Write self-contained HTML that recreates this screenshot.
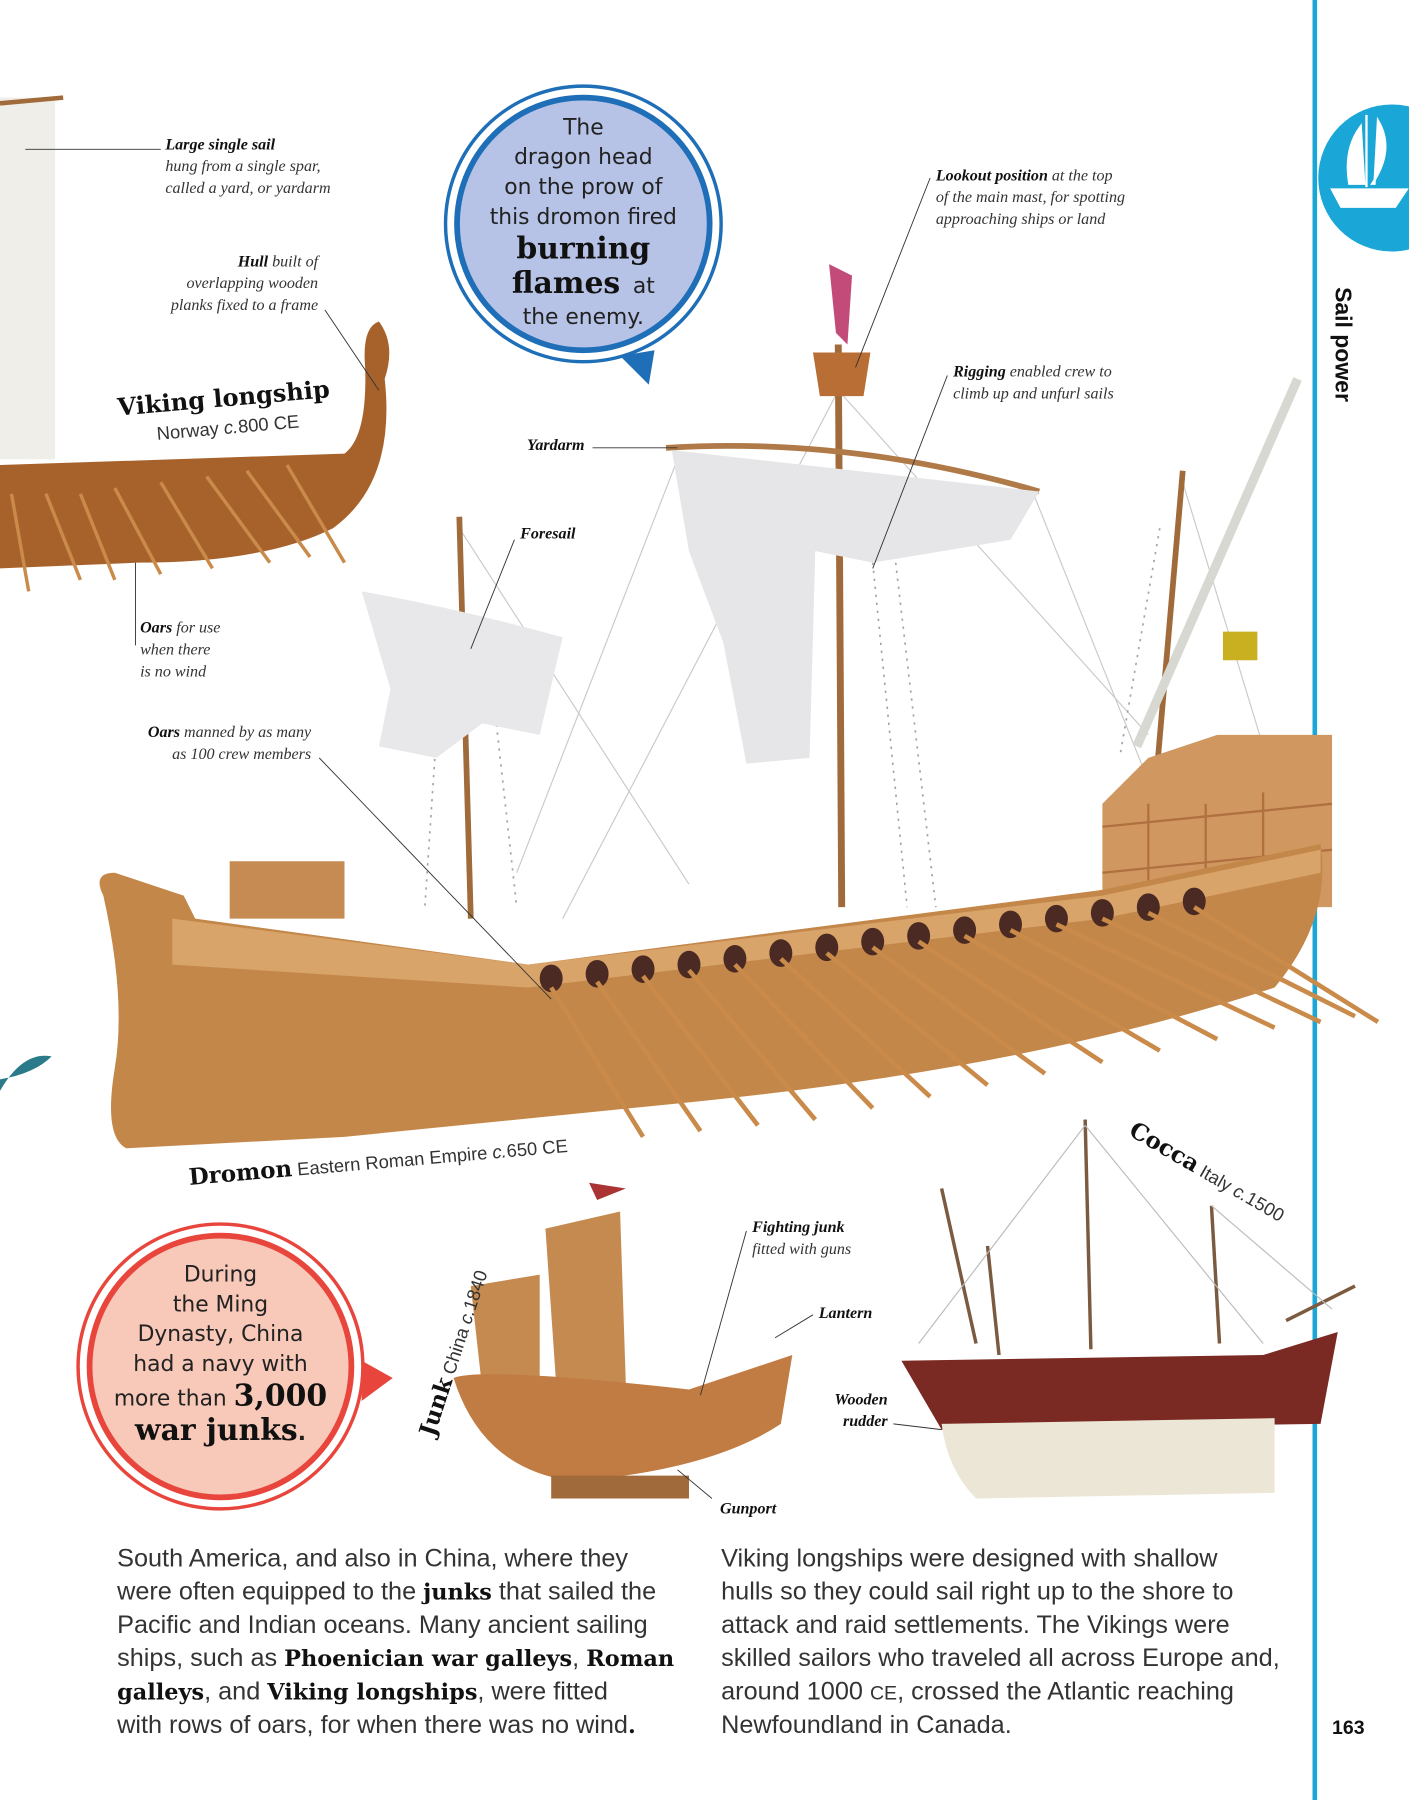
<!DOCTYPE html>
<html><head><meta charset="utf-8"><style>
html,body{margin:0;padding:0;background:#fff;}
svg{display:block}
.lb{font-family:"Liberation Serif",serif;font-style:italic;font-size:14px;fill:#333}
.lb tspan.b{font-weight:bold;fill:#111}
.body{font-family:"Liberation Sans",sans-serif;font-size:22px;fill:#333}
.body tspan.b{font-family:"DejaVu Serif",serif;font-weight:bold;fill:#111;font-size:19.5px}
.cv{font-family:"DejaVu Sans",sans-serif;font-size:19px;fill:#222;text-anchor:middle}
.big{font-family:"DejaVu Serif",serif;font-weight:bold;font-size:26px;fill:#111}
</style></head><body>
<svg width="1409" height="1800" viewBox="0 0 1409 1800">
<g transform="scale(1.1483)">
<rect x="1143" y="0" width="4" height="1568" fill="#1aa6d6"/>
<circle cx="1212" cy="155" r="64" fill="#1aa6d6"/>
<path d="M1160 165 L1225 165 L1215 180 L1168 180 Z M1190 100 L1190 163 M1175 160 Q1170 130 1185 110 L1188 160 Z M1195 160 Q1215 130 1200 105 L1197 160 Z" fill="#fff" stroke="#fff" stroke-width="2"/>
<text x="1163" y="250" transform="rotate(90 1163 250)" font-family="Liberation Sans,sans-serif" font-weight="bold" font-size="20" fill="#111">Sail power</text>
<text x="1160" y="1510" font-family="Liberation Sans,sans-serif" font-weight="bold" font-size="17" fill="#111">163</text>

<rect x="0" y="85" width="48" height="315" fill="#efeee9"/>
<path d="M0 90 L55 85" stroke="#a06a3a" stroke-width="4"/>
<path d="M0 405 L300 395 Q320 380 318 320 Q315 285 330 280 Q345 300 335 330 Q345 420 290 460 Q230 490 120 490 L0 495 Z" fill="#a7622c"/>
<g stroke="#c98a4a" stroke-width="3">
<line x1="10" y1="430" x2="25" y2="515"/><line x1="40" y1="430" x2="70" y2="505"/><line x1="70" y1="430" x2="100" y2="505"/><line x1="100" y1="425" x2="140" y2="500"/><line x1="140" y1="420" x2="185" y2="495"/><line x1="180" y1="415" x2="235" y2="490"/><line x1="215" y1="410" x2="270" y2="485"/><line x1="250" y1="405" x2="300" y2="490"/>
</g>
<path d="M0 950 Q20 915 45 920 Q30 935 0 940Z" fill="#2a7a8a"/>

<g stroke="#c9c9c9" stroke-width="1" fill="none">
<line x1="730" y1="340" x2="490" y2="800"/><line x1="730" y1="340" x2="1000" y2="640"/><line x1="900" y1="430" x2="1000" y2="680"/><line x1="590" y1="400" x2="450" y2="760"/><line x1="400" y1="460" x2="600" y2="770"/><line x1="1030" y1="420" x2="1100" y2="650"/>
</g>
<g stroke="#9aa" stroke-width="1.5" stroke-dasharray="2 5"><line x1="760" y1="490" x2="790" y2="790"/><line x1="780" y1="490" x2="815" y2="790"/><line x1="380" y1="640" x2="370" y2="790"/><line x1="430" y1="610" x2="450" y2="790"/><line x1="1010" y1="460" x2="975" y2="660"/></g>
<line x1="730" y1="300" x2="733" y2="790" stroke="#a06a3a" stroke-width="6"/>
<line x1="400" y1="450" x2="410" y2="800" stroke="#a06a3a" stroke-width="5"/>
<line x1="1030" y1="410" x2="1005" y2="700" stroke="#a06a3a" stroke-width="5"/>
<line x1="1130" y1="330" x2="990" y2="650" stroke="#d8d8d2" stroke-width="8"/>
<path d="M722 230 L742 240 L738 300 L728 290 Z" fill="#c24b7a"/>
<path d="M708 307 L758 307 L752 345 L714 345 Z" fill="#b86e35"/>
<path d="M580 390 Q740 380 905 428" stroke="#b07a48" stroke-width="5" fill="none"/>
<path d="M585 392 L905 428 L880 470 L760 490 L710 480 L705 660 L650 665 L630 560 L600 480 Z" fill="#e6e6e8"/>
<path d="M315 515 Q400 530 490 555 L470 640 L420 630 L380 660 L330 650 L340 600 Z" fill="#e8e8ea"/>
<path d="M1065 550 L1095 550 L1095 575 L1065 575Z" fill="#c8b020"/>
<path d="M960 700 L1000 660 L1060 640 L1160 640 L1160 790 L960 790 Z" fill="#d09860"/>
<g stroke="#b07040" stroke-width="2"><line x1="960" y1="720" x2="1160" y2="700"/><line x1="960" y1="760" x2="1160" y2="740"/><line x1="1000" y1="700" x2="1000" y2="790"/><line x1="1050" y1="700" x2="1050" y2="790"/><line x1="1100" y1="690" x2="1100" y2="790"/></g>
<path d="M200 750 L300 750 L300 800 L200 800 Z" fill="#c68b52"/>
<path d="M90 780 Q80 760 100 760 L160 780 L170 800 L460 840 L960 775 L1150 735 Q1160 800 1110 860 Q900 930 600 960 L300 990 L110 1000 Q90 990 100 930 Q110 870 90 780 Z" fill="#c4874a"/>
<path d="M150 800 L460 840 L960 780 L1150 740 L1150 760 L960 800 L460 860 L150 840Z" fill="#d9a46a"/>
<g fill="#4a2a22">
<ellipse cx="480" cy="852" rx="10" ry="12"/><ellipse cx="520" cy="848" rx="10" ry="12"/><ellipse cx="560" cy="844" rx="10" ry="12"/><ellipse cx="600" cy="840" rx="10" ry="12"/><ellipse cx="640" cy="835" rx="10" ry="12"/><ellipse cx="680" cy="830" rx="10" ry="12"/><ellipse cx="720" cy="825" rx="10" ry="12"/><ellipse cx="760" cy="820" rx="10" ry="12"/><ellipse cx="800" cy="815" rx="10" ry="12"/><ellipse cx="840" cy="810" rx="10" ry="12"/><ellipse cx="880" cy="805" rx="10" ry="12"/><ellipse cx="920" cy="800" rx="10" ry="12"/><ellipse cx="960" cy="795" rx="10" ry="12"/><ellipse cx="1000" cy="790" rx="10" ry="12"/><ellipse cx="1040" cy="785" rx="10" ry="12"/>
</g>
<g stroke="#c98a4a" stroke-width="4">
<line x1="480" y1="860" x2="560" y2="990"/><line x1="520" y1="855" x2="610" y2="985"/><line x1="560" y1="850" x2="660" y2="980"/><line x1="600" y1="845" x2="710" y2="975"/><line x1="640" y1="840" x2="760" y2="965"/><line x1="680" y1="835" x2="810" y2="955"/><line x1="720" y1="830" x2="860" y2="945"/><line x1="760" y1="825" x2="910" y2="935"/><line x1="800" y1="820" x2="960" y2="925"/><line x1="840" y1="815" x2="1010" y2="915"/><line x1="880" y1="810" x2="1060" y2="905"/><line x1="920" y1="805" x2="1110" y2="895"/><line x1="960" y1="800" x2="1150" y2="890"/><line x1="1000" y1="795" x2="1180" y2="885"/><line x1="1040" y1="790" x2="1200" y2="890"/>
</g>

<path d="M475 1070 L540 1055 L545 1205 L485 1215 Z" fill="#c58a50"/>
<path d="M410 1120 L470 1110 L470 1205 L420 1210 Z" fill="#c58a50"/>
<path d="M513 1030 L545 1035 L520 1045Z" fill="#a33"/>
<path d="M395 1200 Q420 1190 600 1210 L690 1180 L680 1240 Q620 1280 500 1290 Q420 1280 395 1200Z" fill="#c17c44"/>
<path d="M480 1285 L600 1285 L600 1305 L480 1305Z" fill="#a06a3a"/>
<g stroke="#7a5a40" stroke-width="3">
<line x1="945" y1="975" x2="950" y2="1175"/><line x1="1055" y1="1050" x2="1062" y2="1170"/><line x1="860" y1="1085" x2="870" y2="1180"/><line x1="820" y1="1035" x2="850" y2="1170"/><line x1="1120" y1="1150" x2="1180" y2="1120"/>
</g>
<g stroke="#bbb" stroke-width="1"><line x1="945" y1="980" x2="1100" y2="1170"/><line x1="945" y1="980" x2="800" y2="1170"/><line x1="1055" y1="1050" x2="1160" y2="1140"/></g>
<path d="M785 1185 L1100 1180 L1165 1160 L1150 1240 L820 1245 Z" fill="#7a2a22"/>
<path d="M820 1240 L1110 1235 L1110 1300 L850 1305 Q825 1280 820 1240Z" fill="#ece6d6"/>

<g stroke="#333" stroke-width="0.8" fill="none">
<line x1="22" y1="130" x2="140" y2="130"/>
<line x1="283" y1="270" x2="330" y2="340"/>
<line x1="118" y1="490" x2="118" y2="562"/>
<line x1="278" y1="660" x2="480" y2="870"/>
<line x1="516" y1="390" x2="590" y2="390"/>
<line x1="448" y1="470" x2="410" y2="565"/>
<line x1="810" y1="155" x2="745" y2="320"/>
<line x1="825" y1="327" x2="760" y2="495"/>
<line x1="650" y1="1072" x2="610" y2="1215"/>
<line x1="708" y1="1145" x2="675" y2="1165"/>
<line x1="778" y1="1240" x2="820" y2="1245"/>
<line x1="620" y1="1305" x2="590" y2="1280"/>
</g>
<text class="lb" x="144" y="130"><tspan class="b">Large single sail</tspan></text>
<text class="lb" x="144" y="149">hung from a single spar,</text>
<text class="lb" x="144" y="168">called a yard, or yardarm</text>
<text class="lb" x="277" y="232" text-anchor="end"><tspan class="b">Hull</tspan> built of</text>
<text class="lb" x="277" y="251" text-anchor="end">overlapping wooden</text>
<text class="lb" x="277" y="270" text-anchor="end">planks fixed to a frame</text>
<text class="lb" x="122" y="551"><tspan class="b">Oars</tspan> for use</text>
<text class="lb" x="122" y="570">when there</text>
<text class="lb" x="122" y="589">is no wind</text>
<text class="lb" x="271" y="642" text-anchor="end"><tspan class="b">Oars</tspan> manned by as many</text>
<text class="lb" x="271" y="661" text-anchor="end">as 100 crew members</text>
<text class="lb" x="509" y="392" text-anchor="end"><tspan class="b">Yardarm</tspan></text>
<text class="lb" x="453" y="469"><tspan class="b">Foresail</tspan></text>
<text class="lb" x="815" y="157"><tspan class="b">Lookout position</tspan> at the top</text>
<text class="lb" x="815" y="176">of the main mast, for spotting</text>
<text class="lb" x="815" y="195">approaching ships or land</text>
<text class="lb" x="830" y="328"><tspan class="b">Rigging</tspan> enabled crew to</text>
<text class="lb" x="830" y="347">climb up and unfurl sails</text>
<text class="lb" x="655" y="1073"><tspan class="b">Fighting junk</tspan></text>
<text class="lb" x="655" y="1092">fitted with guns</text>
<text class="lb" x="713" y="1148"><tspan class="b">Lantern</tspan></text>
<text class="lb" x="773" y="1223" text-anchor="end"><tspan class="b">Wooden</tspan></text>
<text class="lb" x="773" y="1242" text-anchor="end"><tspan class="b">rudder</tspan></text>
<text class="lb" x="627" y="1318"><tspan class="b">Gunport</tspan></text>

<g transform="rotate(-5 103 362)"><text x="103" y="362" font-family="DejaVu Serif,serif" font-weight="bold" font-size="21" fill="#111">Viking longship</text>
<text x="135" y="386" font-family="Liberation Sans,sans-serif" font-size="16" fill="#333">Norway <tspan font-style="italic">c.</tspan>800 CE</text></g>
<g transform="rotate(-5 165 1032)"><text x="165" y="1032" font-family="Liberation Sans,sans-serif" font-size="16" fill="#333"><tspan font-family="DejaVu Serif,serif" font-weight="bold" font-size="20" fill="#111">Dromon</tspan> Eastern Roman Empire <tspan font-style="italic">c.</tspan>650 CE</text></g>
<g transform="rotate(30 982 988)"><text x="982" y="988" font-family="Liberation Sans,sans-serif" font-size="16" fill="#333"><tspan font-family="DejaVu Serif,serif" font-weight="bold" font-size="20" fill="#111">Cocca</tspan> Italy <tspan font-style="italic">c.</tspan>1500</text></g>
<g transform="rotate(-72 378 1252)"><text x="378" y="1252" font-family="Liberation Sans,sans-serif" font-size="16" fill="#333"><tspan font-family="DejaVu Serif,serif" font-weight="bold" font-size="20" fill="#111">Junk</tspan> China <tspan font-style="italic">c.</tspan>1840</text></g>

<path d="M540 310 L570 305 L565 335 Z" fill="#1e6fb8"/>
<circle cx="508" cy="195" r="120" fill="#fff" stroke="#1e6fb8" stroke-width="3"/>
<circle cx="508" cy="195" r="110" fill="#b6c3e6" stroke="#1e6fb8" stroke-width="5"/>
<text class="cv" x="508" y="117">The</text>
<text class="cv" x="508" y="143">dragon head</text>
<text class="cv" x="508" y="169">on the prow of</text>
<text class="cv" x="508" y="195">this dromon fired</text>
<text class="big" x="508" y="225" text-anchor="middle">burning</text>
<text x="508" y="255" text-anchor="middle"><tspan class="big">flames</tspan><tspan class="cv" dx="5"> at</tspan></text>
<text class="cv" x="508" y="282">the enemy.</text>

<path d="M315 1185 L342 1200 L315 1220 Z" fill="#e8453c"/>
<circle cx="192" cy="1190" r="124" fill="#fff" stroke="#e8453c" stroke-width="3"/>
<circle cx="192" cy="1190" r="114" fill="#f8c8b8" stroke="#e8453c" stroke-width="5"/>
<text class="cv" x="192" y="1116">During</text>
<text class="cv" x="192" y="1142">the Ming</text>
<text class="cv" x="192" y="1168">Dynasty, China</text>
<text class="cv" x="192" y="1194">had a navy with</text>
<text x="192" y="1224" text-anchor="middle"><tspan class="cv">more than </tspan><tspan class="big">3,000</tspan></text>
<text class="big" x="192" y="1254" text-anchor="middle">war junks<tspan class="cv">.</tspan></text>

<text class="body" x="102" y="1364">South America, and also in China, where they</text>
<text class="body" x="102" y="1393">were often equipped to the <tspan class="b">junks</tspan> that sailed the</text>
<text class="body" x="102" y="1422">Pacific and Indian oceans. Many ancient sailing</text>
<text class="body" x="102" y="1451">ships, such as <tspan class="b">Phoenician war galleys</tspan>, <tspan class="b">Roman</tspan></text>
<text class="body" x="102" y="1480"><tspan class="b">galleys</tspan>, and <tspan class="b">Viking longships</tspan>, were fitted</text>
<text class="body" x="102" y="1509">with rows of oars, for when there was no wind<tspan class="b">.</tspan></text>
<text class="body" x="628" y="1364">Viking longships were designed with shallow</text>
<text class="body" x="628" y="1393">hulls so they could sail right up to the shore to</text>
<text class="body" x="628" y="1422">attack and raid settlements. The Vikings were</text>
<text class="body" x="628" y="1451">skilled sailors who traveled all across Europe and,</text>
<text class="body" x="628" y="1480">around 1000 <tspan font-size="17">CE</tspan>, crossed the Atlantic reaching</text>
<text class="body" x="628" y="1509">Newfoundland in Canada.</text>
</g>
</svg>
</body></html>
